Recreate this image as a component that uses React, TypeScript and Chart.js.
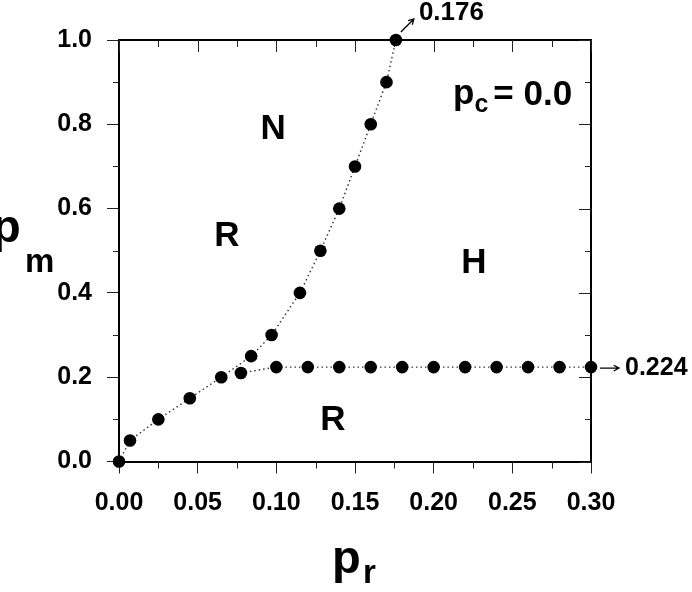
import React, { useEffect, useRef } from "react";
import { Chart, registerables } from "chart.js";

Chart.register(...registerables);

// ---- data ----
const upperPr = [0, 0.007, 0.025, 0.045, 0.065, 0.084, 0.097, 0.115, 0.128, 0.14, 0.15, 0.16, 0.17, 0.176];
const upperPm = [0, 0.05, 0.1, 0.15, 0.2, 0.25, 0.3, 0.4, 0.5, 0.6, 0.7, 0.8, 0.9, 1.0];
const lowerPr = [0.0775, 0.1, 0.12, 0.14, 0.16, 0.18, 0.2, 0.22, 0.24, 0.26, 0.28, 0.3];
const lowerPm = [0.21, 0.224, 0.224, 0.224, 0.224, 0.224, 0.224, 0.224, 0.224, 0.224, 0.224, 0.224];

const xMajorTicks = [0, 0.05, 0.1, 0.15, 0.2, 0.25, 0.3];
const xMinorTicks = [0.025, 0.075, 0.125, 0.175, 0.225, 0.275];
const yMajorTicks = [0, 0.2, 0.4, 0.6, 0.8, 1.0];
const yMinorTicks = [0.1, 0.3, 0.5, 0.7, 0.9];

const regionLabels = ["N", "R", "H", "R"];
const regionPr = [0.098, 0.0686, 0.2256, 0.136];
const regionPm = [0.788, 0.534, 0.47, 0.097];

const upperEndLabel = "0.176";
const lowerEndLabel = "0.224";
const pcLabel = "0.0";

const FONT = '"Liberation Sans", Arial, Helvetica, sans-serif';
const bold = (size: number) => `bold ${size}px ${FONT}`;

function arrow(ctx: CanvasRenderingContext2D, x1: number, y1: number, x2: number, y2: number) {
  const ang = Math.atan2(y2 - y1, x2 - x1);
  const h = 6;
  ctx.beginPath();
  ctx.moveTo(x1, y1);
  ctx.lineTo(x2, y2);
  ctx.moveTo(x2 - h * Math.cos(ang - 0.5), y2 - h * Math.sin(ang - 0.5));
  ctx.lineTo(x2, y2);
  ctx.lineTo(x2 - h * Math.cos(ang + 0.5), y2 - h * Math.sin(ang + 0.5));
  ctx.stroke();
}

const framePlugin = {
  id: "frame",
  beforeDatasetsDraw(chart: any) {
    const { ctx, chartArea: a, scales } = chart;
    const xs = scales.x;
    const ys = scales.y;
    ctx.save();
    ctx.strokeStyle = "#000";
    ctx.lineWidth = 2;
    ctx.beginPath();
    ctx.moveTo(a.left - 1, a.top);
    ctx.lineTo(a.right, a.top);
    ctx.lineTo(a.right, a.bottom + 1);
    ctx.stroke();
    ctx.lineWidth = 1;
    ctx.strokeStyle = "#222";
    ctx.beginPath();
    for (const v of xMinorTicks) {
      const px = Math.round(xs.getPixelForValue(v)) + 0.5;
      ctx.moveTo(px, a.bottom);
      ctx.lineTo(px, a.bottom + 7);
      ctx.moveTo(px, a.top);
      ctx.lineTo(px, a.top + 7);
    }
    for (const v of xMajorTicks) {
      const px = Math.round(xs.getPixelForValue(v)) + 0.5;
      ctx.moveTo(px, a.top);
      ctx.lineTo(px, a.top + 12);
    }
    for (const v of yMinorTicks) {
      const py = Math.round(ys.getPixelForValue(v)) + 0.5;
      ctx.moveTo(a.left, py);
      ctx.lineTo(a.left - 6, py);
      ctx.moveTo(a.right, py);
      ctx.lineTo(a.right - 6, py);
    }
    for (const v of yMajorTicks) {
      const py = Math.round(ys.getPixelForValue(v)) + 0.5;
      ctx.moveTo(a.right, py);
      ctx.lineTo(a.right - 12, py);
    }
    ctx.stroke();
    ctx.restore();
  },
  afterDraw(chart: any) {
    const { ctx, chartArea: a, scales } = chart;
    const xs = scales.x;
    const ys = scales.y;
    ctx.save();
    ctx.fillStyle = "#000";
    ctx.strokeStyle = "#000";

    // region labels
    ctx.font = bold(35);
    ctx.textAlign = "center";
    ctx.textBaseline = "middle";
    regionLabels.forEach((t, i) => {
      ctx.fillText(t, xs.getPixelForValue(regionPr[i]), ys.getPixelForValue(regionPm[i]));
    });

    // p_c = 0.0
    ctx.textAlign = "left";
    ctx.textBaseline = "alphabetic";
    let x = xs.getPixelForValue(0.2123);
    const yb = ys.getPixelForValue(0.848);
    ctx.font = bold(35);
    ctx.fillText("p", x, yb);
    x += ctx.measureText("p").width;
    ctx.font = bold(25);
    ctx.fillText("c", x, yb + 8);
    x += ctx.measureText("c").width + 5;
    ctx.font = bold(35);
    ctx.fillText("= " + pcLabel, x, yb + 1);

    // end annotations
    ctx.lineWidth = 1.3;
    const ux = xs.getPixelForValue(upperPr[upperPr.length - 1]);
    const uy = ys.getPixelForValue(upperPm[upperPm.length - 1]);
    arrow(ctx, ux + 5, uy - 8, ux + 18, uy - 21);
    ctx.font = bold(26);
    ctx.fillText(upperEndLabel, ux + 23, uy - 20);

    const lx = xs.getPixelForValue(lowerPr[lowerPr.length - 1]);
    const ly = ys.getPixelForValue(lowerPm[lowerPm.length - 1]);
    arrow(ctx, lx + 9, ly + 1, lx + 28, ly + 1);
    ctx.font = bold(25);
    ctx.textBaseline = "middle";
    ctx.fillText(lowerEndLabel, lx + 34, ly + 1);

    // axis titles
    ctx.textBaseline = "alphabetic";
    // p_m
    ctx.font = bold(47);
    ctx.fillText("p", a.left - 127, ys.getPixelForValue(0.5) + (242 - 250.75));
    ctx.font = bold(33);
    ctx.fillText("m", a.left - 94, ys.getPixelForValue(0.5) + (272 - 250.75));
    // p_r
    const cx = (a.left + a.right) / 2;
    ctx.font = bold(47);
    ctx.fillText("p", cx - 23, 573);
    ctx.font = bold(33);
    ctx.fillText("r", cx + 8, 583);

    ctx.restore();
  },
};

export default function App() {
  const ref = useRef<HTMLCanvasElement | null>(null);
  useEffect(() => {
    if (!ref.current) return;
    const tickFont = { family: FONT, size: 25, weight: "bold" as const };
    const chart = new Chart(ref.current, {
      type: "scatter",
      data: {
        datasets: [
          {
            data: upperPr.map((v, i) => ({ x: v, y: upperPm[i] })),
            showLine: true,
            borderColor: "#333",
            borderWidth: 1.4,
            borderDash: [1.5, 3],
            pointRadius: 6.3,
            pointBackgroundColor: "#000",
            pointBorderWidth: 0,
            tension: 0,
            clip: false as any,
          },
          {
            data: lowerPr.map((v, i) => ({ x: v, y: lowerPm[i] })),
            showLine: true,
            borderColor: "#333",
            borderWidth: 1.4,
            borderDash: [1.5, 3],
            pointRadius: 6.3,
            pointBackgroundColor: "#000",
            pointBorderWidth: 0,
            tension: 0,
            clip: false as any,
          },
        ],
      },
      options: {
        responsive: false,
        animation: false,
        devicePixelRatio: 1,
        layout: { padding: { top: 40, right: 101, bottom: 0, left: 0 } },
        plugins: { legend: { display: false }, tooltip: { enabled: false } },
        scales: {
          x: {
            type: "linear",
            position: "bottom",
            min: 0,
            max: 0.3,
            ticks: {
              stepSize: 0.05,
              autoSkip: false,
              maxRotation: 0,
              padding: 15,
              color: "#000",
              font: tickFont,
              callback: (v: any) => Number(v).toFixed(2),
            },
            grid: { drawOnChartArea: false, drawTicks: true, tickLength: 12, color: "#222", lineWidth: 1 },
            border: { display: true, color: "#000", width: 2 },
            afterFit: (s: any) => {
              s.height = 130.5;
            },
          },
          y: {
            type: "linear",
            position: "left",
            min: 0,
            max: 1,
            ticks: {
              stepSize: 0.2,
              autoSkip: false,
              padding: 15,
              color: "#000",
              font: tickFont,
              callback: (v: any) => Number(v).toFixed(1),
            },
            grid: { drawOnChartArea: false, drawTicks: true, tickLength: 12, color: "#222", lineWidth: 1 },
            border: { display: true, color: "#000", width: 2 },
            afterFit: (s: any) => {
              s.width = 119;
            },
          },
        },
      },
      plugins: [framePlugin],
    });
    return () => chart.destroy();
  }, []);
  return (
    <div style={{ position: "absolute", left: 0, top: 0, width: 692, height: 592, background: "#fff" }}>
      <canvas ref={ref} width={692} height={592} style={{ display: "block" }} />
    </div>
  );
}
